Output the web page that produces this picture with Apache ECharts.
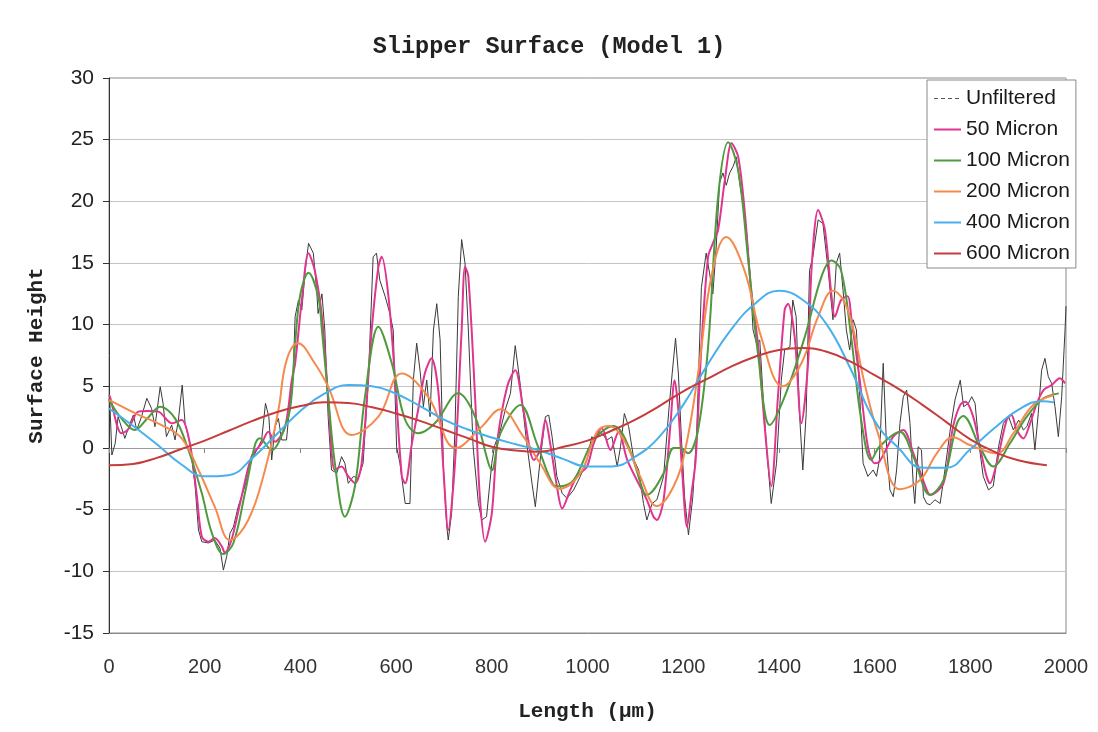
<!DOCTYPE html>
<html>
<head>
<meta charset="utf-8">
<script src="https://cdn.jsdelivr.net/npm/echarts@6/dist/echarts.min.js"></script>
<style>
html,body{margin:0;padding:0;background:#fff;}
#chart{width:1098px;height:732px;}
</style>
</head>
<body>
<div id="chart"></div>
<script>
const titleText = 'Slipper Surface (Model 1)';
const xName = 'Length (\u00b5m)';
const yName = 'Surface Height';
const seriesNames = ['Unfiltered', '50 Micron', '100 Micron', '200 Micron', '400 Micron', '600 Micron'];

const unfX = [0,2,6,13,19,30,33,44,51,58,68,79,89,96,107,113,120,131,138,145,153,159,169,180,187,194,208,221,232,239,246,253,260,270,284,298,309,319,327,334,340,347,354,361,371,378,385,389,396,403,410,417,427,434,437,445,451,458,465,476,486,493,500,511,521,531,542,552,559,566,577,587,594,601,608,619,629,636,643,650,657,664,671,678,685,692,699,706,709,716,723,730,737,744,751,761,772,779,789,800,806,818,828,839,849,860,873,884,891,901,912,919,926,936,947,957,971,985,999,1009,1016,1027,1041,1051,1062,1069,1077,1086,1097,1107,1117,1124,1135,1145,1159,1170,1177,1184,1190,1196,1203,1211,1220,1228,1238,1248,1255,1262,1269,1276,1283,1290,1297,1304,1311,1318,1325,1332,1339,1346,1353,1360,1367,1374,1384,1395,1405,1412,1423,1429,1436,1443,1450,1457,1464,1471,1482,1492,1503,1513,1520,1527,1534,1541,1548,1555,1562,1569,1576,1586,1597,1604,1610,1618,1625,1632,1639,1646,1653,1660,1667,1674,1681,1684,1691,1698,1702,1709,1716,1726,1737,1747,1758,1768,1779,1786,1796,1803,1810,1817,1827,1838,1848,1859,1869,1880,1890,1901,1911,1918,1928,1935,1942,1949,1956,1963,1970,1977,1984,1991,1998,2000];
const unfY = [4.0,3.5,-0.57,0.38,2.54,1.19,0.78,2.0,2.67,1.46,2.54,4.03,3.2,1.73,4.97,3.62,0.92,1.86,0.65,2.27,5.1,2.0,0.38,-3.1,-6.65,-7.6,-7.7,-7.46,-8.13,-9.9,-8.8,-6.9,-6.4,-4.76,-3.1,-0.97,-0.16,0.65,3.62,2.54,-0.97,1.73,2.4,0.65,0.65,3.62,6.3,10.65,12.0,11.2,14.4,16.6,15.8,12.8,10.9,12.5,9.57,2.54,-1.78,-2.05,-0.7,-1.24,-2.86,-2.3,-2.46,-1.24,5.5,15.5,15.8,13.6,12.3,10.9,9.57,0.1,-1.24,-4.5,-4.5,5.5,8.5,6.3,3.35,5.5,2.54,9.57,11.7,8.76,-1.78,-6.4,-7.46,-5.3,1.46,12.3,16.9,15.0,9.57,0.1,-4.5,-5.84,-5.57,-1.24,0.2,1.46,3.08,4.43,8.3,4.97,0.38,-2.86,-4.76,-0.97,2.54,2.67,0.92,-2.3,-3.67,-4.08,-3.4,-2.3,-0.97,0.92,0.65,1.32,0.65,0.92,-1.5,0.1,2.8,1.73,-0.97,-1.78,-4.5,-5.84,-4.5,-4.2,-2.3,3.08,6.05,8.9,6.0,1.0,-4.0,-7.05,-4.0,1.0,13.0,15.8,14.2,12.5,16.3,21.5,22.3,21.3,22.3,22.8,23.6,21.5,19.8,17.7,14.4,9.57,8.5,8.76,4.16,0.1,-4.5,-1.24,5.5,7.95,8.2,12.0,10.65,2.8,-1.78,2.8,14.4,15.5,18.5,18.2,14.4,10.4,15.0,15.8,12.8,9.57,7.95,10.4,9.57,4.16,-1.24,-2.3,-1.78,-2.3,-0.97,6.87,0.1,-3.4,-3.95,-1.78,2.0,4.16,4.7,2.0,-3.1,-4.5,0.1,-0.16,-3.95,-4.5,-4.6,-4.2,-4.5,-1.78,1.46,3.9,5.5,3.35,3.62,4.16,3.62,0.65,-2.3,-3.4,-3.1,0.1,2.0,2.54,1.46,2.27,1.46,1.73,2.8,-0.16,2.8,6.3,7.27,5.78,5.24,3.35,0.92,4.16,9.57,11.5];

const m50X = [0,2,26,40,61,80,103,131,152,169,183,194,208,221,236,242,256,277,298,319,333,347,368,382,389,403,417,430,445,458,472,486,500,514,528,549,563,570,584,598,612,619,633,646,660,674,688,699,709,723,737,744,751,765,775,786,800,811,832,849,866,888,901,912,922,936,947,964,978,999,1013,1030,1048,1065,1083,1103,1124,1138,1145,1159,1173,1182,1190,1198,1208,1218,1226,1238,1252,1262,1273,1287,1301,1315,1329,1342,1357,1371,1384,1398,1412,1419,1433,1447,1461,1468,1482,1496,1510,1517,1530,1544,1551,1569,1586,1600,1610,1639,1660,1681,1709,1716,1744,1764,1779,1790,1806,1820,1834,1841,1855,1876,1886,1897,1911,1925,1939,1953,1970,1987,1998];
const m50Y = [4.3,4.16,1.19,1.5,2.95,3.0,2.95,2.0,2.27,0.38,-3.67,-7.2,-7.6,-7.3,-8.0,-8.5,-7.46,-3.95,-0.7,0.38,1.32,0.51,1.73,5.5,6.87,12.0,15.8,14.4,10.65,4.16,-1.78,-1.5,-2.3,-2.86,-1.24,9.57,14.7,15.5,12.3,5.5,-2.3,-2.86,0.38,3.08,6.05,7.27,4.7,-1.78,-6.65,-1.24,9.57,14.7,13.9,4.16,-3.95,-7.6,-5.3,0.38,4.97,6.3,3.08,-0.97,-0.16,2.27,0.38,-3.1,-4.9,-3.4,-2.3,-1.5,0.38,1.6,-0.16,1.32,-0.97,-2.6,-4.2,-5.57,-5.84,-4.2,1.73,5.5,3.0,-2.0,-6.4,-3.5,-1.0,8.2,15.5,16.6,17.7,21.7,24.7,23.6,19.0,12.8,8.2,1.46,-3.1,4.16,11.2,11.7,9.0,2.0,6.87,14.4,19.3,17.7,12.3,10.65,12.0,12.3,10.65,5.5,0.1,-1.24,-1.1,0.92,1.46,-0.43,-3.4,-3.8,-2.86,1.73,3.5,3.75,2.54,0.1,-2.3,-2.86,-1.24,2.27,2.67,1.46,0.78,2.0,3.62,4.7,5.1,5.65,5.24];

const m100X = [0,26,54,80,107,138,166,194,215,239,260,284,305,315,340,355,378,389,400,417,437,445,458,472,493,514,535,563,591,619,646,681,730,765,793,800,818,860,894,929,940,971,1013,1055,1083,1117,1124,1159,1180,1195,1210,1231,1252,1273,1294,1315,1336,1357,1381,1412,1454,1489,1510,1530,1551,1572,1593,1610,1653,1681,1716,1744,1772,1785,1820,1848,1883,1918,1953,1985];
const m100Y = [3.9,2.4,1.46,2.4,3.35,2.4,-0.16,-3.67,-6.9,-8.6,-7.7,-3.67,0.24,0.8,-0.16,0.5,3.08,8.5,12.5,14.2,12.3,9.57,4.16,-1.24,-5.57,-3.1,4.16,9.84,6.87,2.27,1.19,2.0,4.43,2.54,-1.24,-1.8,1.19,3.49,0.38,-3.0,-3.1,-2.6,0.65,1.78,0.38,-3.54,-3.8,-2.05,0.0,0.0,-0.43,1.46,8.2,20.4,24.8,22.5,15.2,7.4,1.86,4.16,9.0,13.9,15.2,14.4,9.0,2.27,-0.97,0.1,1.32,-0.7,-3.8,-2.6,2.0,2.6,0.1,-1.5,0.38,2.54,4.03,4.43];

const m200X = [0,61,110,152,187,221,253,291,326,354,371,395,430,458,507,563,612,667,725,779,818,866,901,942,985,1020,1044,1076,1110,1145,1180,1205,1231,1259,1290,1328,1363,1408,1447,1482,1513,1544,1579,1607,1653,1695,1730,1764,1799,1855,1890,1932,1975];
const m200Y = [3.9,2.7,1.86,0.78,-1.78,-4.76,-7.46,-5.84,-1.78,3.08,7.1,8.5,6.87,4.97,1.05,2.54,6.05,4.16,0.0,1.73,3.14,0.92,-1.24,-3.3,-2.05,1.32,1.78,0.65,-2.3,-4.7,-3.1,0.0,6.05,13.9,17.1,14.4,9.0,5.0,6.87,10.65,12.76,11.2,5.24,1.19,-3.35,-2.6,-0.43,0.87,0.24,-0.43,1.19,3.5,4.3];

const m400X = [0,50,100,150,200,250,300,350,400,450,500,550,600,650,700,750,800,850,900,950,1000,1050,1100,1150,1200,1250,1300,1350,1400,1450,1500,1550,1600,1650,1700,1750,1800,1850,1900,1950,1975];
const m400Y = [3.2,1.8,0.3,-1.3,-2.3,-2.2,-0.8,1.1,3.0,4.4,5.1,5.0,4.4,3.4,2.3,1.5,0.85,0.3,-0.2,-0.9,-1.5,-1.5,-0.7,0.9,3.5,6.7,9.6,11.7,12.75,12.0,10.0,6.4,2.2,0.0,-1.6,-1.6,-0.1,1.6,3.1,3.8,3.7];

const m600X = [0,50,100,150,200,250,300,350,400,450,500,550,600,650,700,750,800,850,900,950,1000,1050,1100,1150,1200,1250,1300,1350,1400,1450,1500,1550,1600,1650,1700,1750,1800,1850,1900,1960];
const m600Y = [-1.4,-1.3,-0.8,-0.1,0.6,1.4,2.2,2.9,3.4,3.7,3.65,3.3,2.8,2.2,1.5,0.8,0.1,-0.2,-0.3,0.1,0.6,1.4,2.3,3.4,4.6,5.6,6.6,7.4,7.95,8.1,7.8,7.0,5.9,4.8,3.5,2.1,0.7,-0.3,-1.0,-1.4];

const colors = ['#3a3a3a', '#e0358e', '#4f9a3f', '#f58a4e', '#48b0ec', '#c43c3c'];
const widths = [1, 2, 2, 2, 2, 2];
const smooths = [false, 0.3, 0.35, 0.4, 0.45, 0.45];

function zip(xs, ys) { return xs.map((x, i) => [x, ys[i]]); }
const allData = [zip(unfX, unfY), zip(m50X, m50Y), zip(m100X, m100Y), zip(m200X, m200Y), zip(m400X, m400Y), zip(m600X, m600Y)];

const monoFont = '"Liberation Mono", "Courier New", monospace';
const sansFont = '"Liberation Sans", Arial, sans-serif';

const chart = echarts.init(document.getElementById('chart'), null, {renderer: 'canvas'});
const series = seriesNames.map((name, i) => ({
  name: name,
  type: 'line',
  data: allData[i],
  xAxisIndex: 0,
  showSymbol: false,
  symbol: 'none',
  smooth: smooths[i],
  animation: false,
  lineStyle: {color: colors[i], width: widths[i]},
  itemStyle: {color: colors[i]},
  z: 2 + i
}));

chart.setOption({
  backgroundColor: '#ffffff',
  animation: false,
  title: {
    text: titleText,
    left: 'center',
    top: 30,
    textStyle: {fontFamily: monoFont, fontWeight: 'bold', fontSize: 23.5, color: '#222'}
  },
  grid: {left: 109, right: 32, top: 78, bottom: 99, show: true, borderColor: '#8a8a8a', borderWidth: 1, backgroundColor: 'transparent'},
  legend: {
    orient: 'vertical',
    left: 927,
    top: 80,
    padding: [8, 6, 4, 6],
    itemGap: 10,
    itemWidth: 27,
    itemHeight: 12,
    backgroundColor: '#ffffff',
    borderColor: '#8a8a8a',
    borderWidth: 1,
    itemStyle: {opacity: 0},
    textStyle: {fontFamily: sansFont, fontSize: 21, color: '#1a1a1a', lineHeight: 21},
    data: seriesNames.map((n, i) => i === 0 ? {name: n, lineStyle: {type: [4, 3], width: 1, color: '#555'}} : {name: n})
  },
  xAxis: [{
    type: 'value',
    min: 0, max: 2000, interval: 200,
    position: 'bottom',
    name: xName,
    nameLocation: 'middle',
    nameGap: 68,
    nameTextStyle: {fontFamily: monoFont, fontWeight: 'bold', fontSize: 21, color: '#222'},
    axisLine: {show: true, onZero: false, lineStyle: {color: '#8a8a8a', width: 1}},
    axisTick: {show: false},
    axisLabel: {fontFamily: sansFont, fontSize: 20, color: '#333', margin: 24, formatter: v => String(v)},
    splitLine: {show: false}
  }, {
    type: 'value',
    min: 0, max: 2000, interval: 200,
    position: 'top',
    axisLine: {show: true, onZero: true, lineStyle: {color: '#9a9a9a', width: 1}},
    axisTick: {show: true, inside: true, length: 5, lineStyle: {color: '#888'}},
    axisLabel: {show: false},
    splitLine: {show: false}
  }],
  yAxis: {
    type: 'value',
    min: -15, max: 30, interval: 5,
    name: yName,
    nameLocation: 'middle',
    nameRotate: 90,
    nameGap: 62,
    nameTextStyle: {fontFamily: monoFont, fontWeight: 'bold', fontSize: 21, color: '#222'},
    axisLine: {show: true, lineStyle: {color: '#333', width: 1}},
    axisTick: {show: true, length: 6, lineStyle: {color: '#333'}},
    axisLabel: {fontFamily: sansFont, fontSize: 21, color: '#222', margin: 15},
    splitLine: {show: true, lineStyle: {color: '#c4c4c4', width: 1}}
  },
  series: series
});
</script>
</body>
</html>
